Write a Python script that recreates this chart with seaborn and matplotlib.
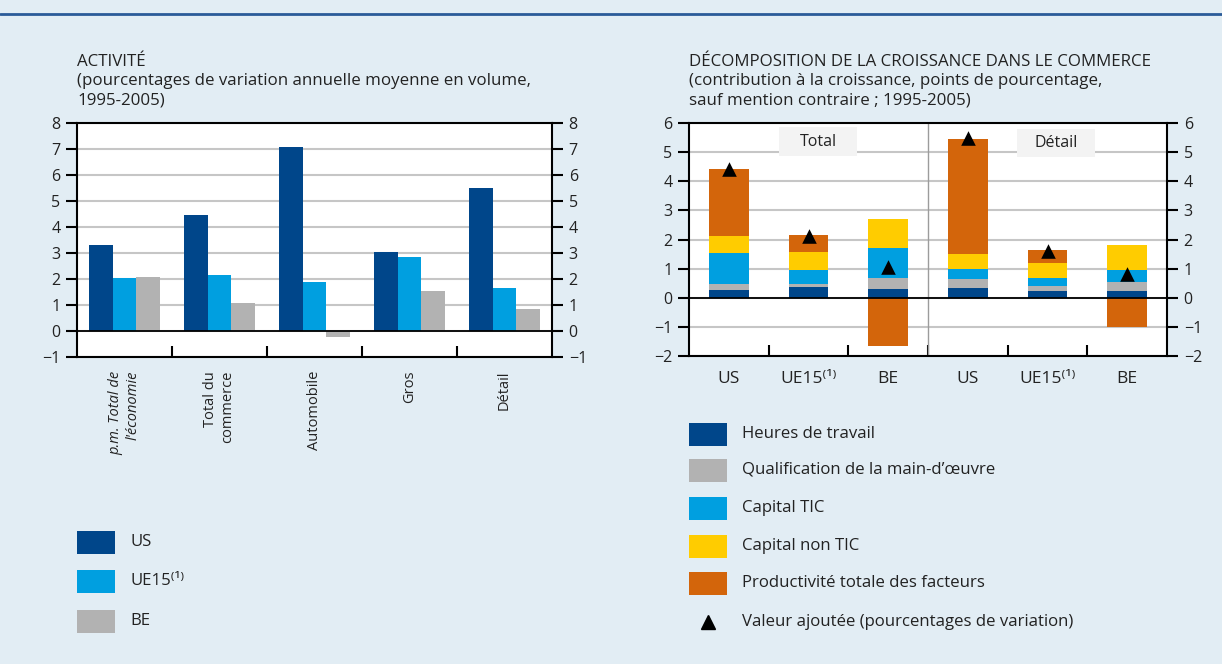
import numpy as np
import pandas as pd
import matplotlib
matplotlib.use("Agg")
import matplotlib.pyplot as plt
import seaborn as sns
from matplotlib.patches import Rectangle
from matplotlib.lines import Line2D

# ---------------- data ----------------
categories = ["p.m. Total de\nl'économie", "Total du\ncommerce", "Automobile", "Gros", "Détail"]
countries = ["US", "UE15", "BE"]
us_vals = [3.31, 4.46, 7.09, 3.04, 5.50]
ue_vals = [2.03, 2.15, 1.88, 2.84, 1.65]
be_vals = [2.07, 1.07, -0.24, 1.53, 0.84]

panel_groups = ["Total", "Détail"]
bar_labels = ["US", "UE15⁽¹⁾", "BE", "US", "UE15⁽¹⁾", "BE"]
heures = [0.25, 0.36, 0.29, 0.32, 0.22, 0.22]
qualif = [0.21, 0.10, 0.38, 0.31, 0.17, 0.31]
cap_tic = [1.07, 0.48, 1.03, 0.35, 0.28, 0.41]
cap_nontic = [0.58, 0.62, 1.00, 0.51, 0.51, 0.86]
ptf = [2.32, 0.59, -1.64, 3.97, 0.45, -0.99]
valeur_ajoutee = [4.43, 2.12, 1.06, 5.47, 1.61, 0.80]

comp_names = ["Heures de travail", "Qualification de la main-d\u2019œuvre", "Capital TIC",
              "Capital non TIC", "Productivité totale des facteurs"]
va_name = "Valeur ajoutée (pourcentages de variation)"

# ---------------- style ----------------
BG = "#e2edf4"
DARK = "#00468a"
LIGHT = "#009fe0"
GREY = "#b2b2b2"
YELLOW = "#ffcc00"
ORANGE = "#d3650b"
TXT = "#222222"
GRID = "#c6c6c6"

sns.set_theme(style="white")
plt.rcParams["font.family"] = ["Open Sans", "DejaVu Sans"]
plt.rcParams["text.color"] = TXT
plt.rcParams["xtick.color"] = "black"
plt.rcParams["ytick.color"] = "black"
plt.rcParams["xtick.labelcolor"] = TXT
plt.rcParams["ytick.labelcolor"] = TXT

W, H = 1222, 664
fig = plt.figure(figsize=(W / 100, H / 100), dpi=100, facecolor=BG)


def box(l, t, r, b):
    return [l / W, 1 - b / H, (r - l) / W, (b - t) / H]


axL = fig.add_axes(box(77, 123, 552, 357))
axR = fig.add_axes(box(689, 123, 1167, 356))

FS = 11

# top rule
fig.add_artist(Line2D([0, 1], [1 - 14 / H, 1 - 14 / H], color="#2a5b98", lw=2,
                      transform=fig.transFigure))

# ---------------- left chart ----------------
keysL = [f"c{i}" for i in range(len(categories))]
dfL = pd.DataFrame({
    "cat": keysL * 3,
    "country": np.repeat(countries, len(keysL)),
    "val": us_vals + ue_vals + be_vals,
})
sns.barplot(data=dfL, x="cat", y="val", hue="country", order=keysL, hue_order=countries,
            palette=[DARK, LIGHT, GREY], width=0.75, gap=0, saturation=1,
            errorbar=None, legend=False, linewidth=0, ax=axL, zorder=2)

axL.set_xlim(-0.5, len(keysL) - 0.5)
axL.set_ylim(-1, 8)

# ---------------- right chart ----------------
keysR = [f"b{i}" for i in range(len(bar_labels))]
colors = [DARK, GREY, LIGHT, YELLOW]
bottom = np.zeros(len(keysR))
for comp, col in zip([heures, qualif, cap_tic, cap_nontic], colors):
    vals = np.array(comp)
    sns.barplot(x=keysR, y=vals, order=keysR, color=col, saturation=1, width=0.5,
                errorbar=None, linewidth=0, bottom=bottom.copy(), ax=axR, zorder=2)
    bottom = bottom + vals
ptf_arr = np.array(ptf)
ptf_bottom = np.where(ptf_arr >= 0, bottom, 0.0)
sns.barplot(x=keysR, y=ptf_arr, order=keysR, color=ORANGE, saturation=1, width=0.5,
            errorbar=None, linewidth=0, bottom=ptf_bottom, ax=axR, zorder=2)
sns.stripplot(x=keysR, y=valeur_ajoutee, order=keysR, jitter=False, marker="^",
              color="black", size=10.5, linewidth=0, ax=axR, zorder=5)

axR.set_xlim(-0.5, len(keysR) - 0.5)
axR.set_ylim(-2, 6)
axR.axvline(2.5, color="#9c9c9c", lw=1.0, zorder=1.5)

for (x0, x1, y0, y1, txt) in [(0.63, 1.61, 4.86, 5.86, panel_groups[0]),
                               (3.62, 4.60, 4.84, 5.81, panel_groups[1])]:
    axR.add_patch(Rectangle((x0, y0), x1 - x0, y1 - y0, facecolor="#f3f3f3",
                            edgecolor="none", zorder=1.8))
    axR.text((x0 + x1) / 2, (y0 + y1) / 2, txt, ha="center", va="center", fontsize=FS + 0.5,
             zorder=3)

# ---------------- common axis styling ----------------
for ax, ymin, ymax, n in [(axL, -1, 8, len(keysL)), (axR, -2, 6, len(keysR))]:
    ax.set_facecolor("white")
    ax.set_xlabel("")
    ax.set_ylabel("")
    ax.set_yticks(range(ymin, ymax + 1))
    ax.set_yticklabels([f"{v}".replace("-", "\u2212") for v in range(ymin, ymax + 1)])
    ax.yaxis.grid(True, color=GRID, lw=1.5, zorder=0)
    ax.xaxis.grid(False)
    ax.set_axisbelow(True)
    ax.axhline(0, color="black", lw=1.3, zorder=3)
    for s in ax.spines.values():
        s.set_color("black")
        s.set_linewidth(1.5)
        s.set_visible(True)
    ax.tick_params(axis="y", which="major", direction="out", length=8, width=1.5,
                   left=True, right=True, labelleft=True, labelright=True,
                   labelsize=FS + 0.5, pad=4)
    ax.set_xticks([i + 0.5 for i in range(n - 1)])
    ax.set_xticklabels([])
    ax.tick_params(axis="x", which="major", direction="in", length=8, width=1.5,
                   bottom=True, top=False)
    ax.set_xticks(range(n), minor=True)

axL.set_xticklabels(categories, minor=True, rotation=90, va="top", ha="center",
                    multialignment="right", fontsize=FS - 0.5)
axL.tick_params(axis="x", which="minor", length=0, pad=10)
axL.get_xticklabels(minor=True)[0].set_fontstyle("italic")

axR.set_xticklabels(bar_labels, minor=True, fontsize=FS + 1.5)
axR.tick_params(axis="x", which="minor", length=0, pad=11)

# ---------------- titles ----------------
TFS = 12.2
fig.text(77 / W, 1 - 54 / H,
         "ACTIVITÉ\n(pourcentages de variation annuelle moyenne en volume,\n1995-2005)",
         ha="left", va="top", fontsize=TFS, linespacing=1.26)
fig.text(689 / W, 1 - 54 / H,
         "DÉCOMPOSITION DE LA CROISSANCE DANS LE COMMERCE\n"
         "(contribution à la croissance, points de pourcentage,\n"
         "sauf mention contraire ; 1995-2005)",
         ha="left", va="top", fontsize=TFS, linespacing=1.26)

# ---------------- legends ----------------
def swatch(x0, yc, col):
    fig.add_artist(Rectangle((x0 / W, 1 - (yc + 11.5) / H), 38 / W, 23 / H,
                             facecolor=col, edgecolor="none", transform=fig.transFigure))

LFS = 12.1
for lab, col, yc in zip(["US", "UE15⁽¹⁾", "BE"], [DARK, LIGHT, GREY], [542, 581, 621]):
    swatch(77, yc, col)
    fig.text(130 / W, 1 - yc / H, lab, ha="left", va="center", fontsize=LFS)

for lab, col, yc in zip(comp_names, colors + [ORANGE], [434, 470, 508, 546, 583]):
    swatch(689, yc, col)
    fig.text(742 / W, 1 - yc / H, lab, ha="left", va="center", fontsize=LFS)
fig.add_artist(Line2D([708 / W], [1 - 622 / H], marker="^", color="black", markersize=10,
                      linestyle="none", transform=fig.transFigure))
fig.text(742 / W, 1 - 622 / H, va_name, ha="left", va="center", fontsize=LFS)

fig.savefig("out.png", dpi=100, facecolor=BG)
